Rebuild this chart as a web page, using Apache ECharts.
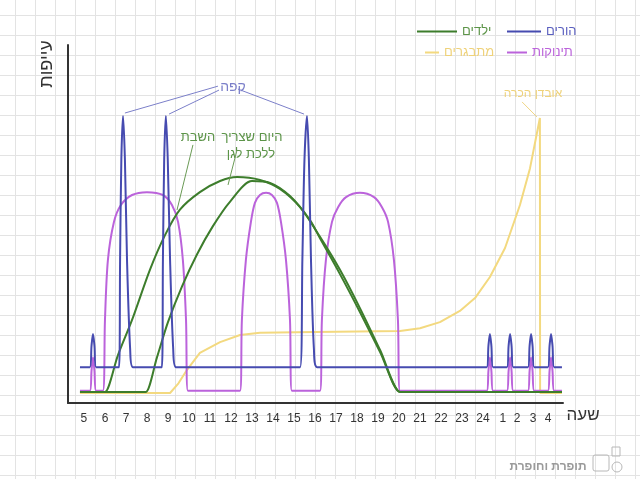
<!DOCTYPE html>
<html><head><meta charset="utf-8">
<script src="https://cdn.jsdelivr.net/npm/echarts@6/dist/echarts.min.js"></script>
<style>
html,body{margin:0;padding:0;background:#fff;}
#c{width:640px;height:479px;background-color:#fff;
background-image:linear-gradient(to right,#e3e3e3 1px,transparent 1px),linear-gradient(to bottom,#e3e3e3 1px,transparent 1px);
background-size:20px 20px;background-position:15px 15px;}
</style></head><body><div id="c"></div><script>
// x = hour of day (25..28 = 1..4 after midnight), y = fatigue
const tickPos = [5,6,7,8,9,10,11,12,13,14,15,16,17,18,19,20,21,22,23,24,24.95,25.62,26.38,27.1];
const tickLabels = ['5','6','7','8','9','10','11','12','13','14','15','16','17','18','19','20','21','22','23','24','1','2','3','4'];

const parents = [
 [4.81,10],[5.28,10],[5.36,16],[5.43,19.3],[5.5,16],[5.58,10],
 [6.67,10],[6.72,40],[6.78,68],[6.86,80.2],[6.95,68],[7.05,40],[7.2,15],[7.33,10],
 [8.71,10],[8.76,40],[8.82,68],[8.9,80.2],[8.99,68],[9.1,40],[9.25,15],[9.38,10],
 [15.29,10],[15.4,40],[15.5,68],[15.62,80.2],[15.71,68],[15.81,40],[15.95,15],[16.1,10],
 [24.18,10],[24.26,16],[24.33,19.3],[24.4,16],[24.48,10],
 [25.14,10],[25.22,16],[25.29,19.3],[25.36,16],[25.44,10],
 [26.14,10],[26.22,16],[26.29,19.3],[26.36,16],[26.44,10],
 [27.09,10],[27.17,16],[27.24,19.3],[27.31,16],[27.39,10],
 [27.76,10]
];
const babies = [
 [4.81,3.4],[5.28,3.4],[5.36,9],[5.43,12.8],[5.5,9],[5.58,3.4],
 [5.9,3.4],[6.0,23.2],[6.14,39.9],[6.43,50.6],[6.76,55.3],[7.29,58.1],[8.0,58.9],[8.76,58.1],[9.19,55.3],[9.48,50.6],[9.71,39.9],[9.86,23.2],[9.95,3.4],
 [12.43,3.4],[12.52,23.2],[12.71,39.9],[12.95,50.6],[13.14,55.9],[13.38,58.1],[13.67,58.7],[13.95,58.1],[14.19,55.9],[14.38,50.6],[14.62,39.9],[14.81,23.2],[14.9,3.4],
 [16.24,3.4],[16.33,23.2],[16.52,39.9],[16.81,50.6],[17.1,54.7],[17.48,57.5],[18.14,58.7],[18.81,57.5],[19.19,54.7],[19.48,50.6],[19.76,39.9],[19.95,23.2],[20.05,3.4],
 [24.18,3.4],[24.26,9],[24.33,12.8],[24.4,9],[24.48,3.4],
 [25.14,3.4],[25.22,9],[25.29,12.8],[25.36,9],[25.44,3.4],
 [26.14,3.4],[26.22,9],[26.29,12.8],[26.36,9],[26.44,3.4],
 [27.09,3.4],[27.17,9],[27.24,12.8],[27.31,9],[27.39,3.4],
 [27.76,3.4]
];
const kidsShabbat = [
 [4.81,3.1],[5.95,3.1],[6.0,3.1],[6.62,13.4],[7.29,23.2],[8.14,37.2],[8.86,46.9],[9.57,54.0],[10.52,58.9],[11.48,62.0],[12.29,63.1],
 [13.38,62.3],[14.33,59.8],[15.29,54.7],[16.24,46.4],[17.19,37.2],[18.14,26.5],[19.1,14.8],[20.05,3.1],[20.1,3.1],[27.76,3.1]
];
const kidsGan = [
 [4.81,3.1],[7.9,3.1],[7.95,3.1],[8.48,12.8],[9.0,22.6],[9.67,32.6],[10.38,41.5],[11.14,49.4],[11.95,56.2],[13.0,62.0],
 [13.86,61.5],[14.81,57.8],[15.76,51.1],[16.24,46.0],[17.19,36.0],[18.14,25.4],[19.1,14.2],[20.05,3.1],[20.1,3.1],[27.76,3.1]
];
const teens = [
 [4.81,2.8],[9.1,2.8],[9.5,5.5],[9.9,9.2],[10.52,14.0],[11.48,17.0],[12.43,19.0],[13.38,19.6],[16.0,19.8],
 [20.05,20.1],[21.0,20.9],[21.95,22.6],[22.9,25.7],[23.62,29.3],[24.33,35.2],[25.05,43.3],[25.76,55.3],[26.24,65.6],[26.71,79.6],
 [26.72,2.8],[27.76,2.8]
];

const BLUE='#464bb0', GREEN='#3d7d2c', PURPLE='#bb63db', YELLOW='#f3d97f';
const FONT = '"Liberation Sans","DejaVu Sans",sans-serif';

const chart = echarts.init(document.getElementById('c'), null, {renderer:'canvas'});
function lineSeries(name, data, color, smooth, extra){
  return Object.assign({type:'line', name, data, symbol:'none', smooth:smooth,
    lineStyle:{color, width:2}, itemStyle:{color}, z:2, silent:true}, extra||{});
}
function leader(color, pairs){
  return {silent:true, symbol:['none','none'], label:{show:false}, lineStyle:{color, width:1, type:'solid'},
    emphasis:{disabled:true}, animation:false,
    data: pairs.map(p=>[{coord:p[0]},{coord:p[1]}])};
}
function legendItem(name, left, top, w, color){
  return {data:[name], left, top, itemWidth:w, itemHeight:2, icon:'rect', selectedMode:false, padding:0, itemGap:5,
    textStyle:{fontSize:13, fontFamily:FONT, color}};
}
chart.setOption({
  animation:false,
  backgroundColor:'transparent',
  textStyle:{fontFamily:FONT},
  grid:{left:68, right:77, top:45, bottom:76},
  xAxis:{type:'value', min:4.24, max:27.81,
    axisLine:{show:true, lineStyle:{color:'#333', width:2}}, axisTick:{show:false}, splitLine:{show:false},
    axisLabel:{customValues:tickPos, margin:10, color:'#333', fontSize:12, fontFamily:FONT,
      formatter:v=>{const i=tickPos.findIndex(t=>Math.abs(t-v)<1e-6); return i>=0?tickLabels[i]:'';}}},
  yAxis:{type:'value', min:0, max:100,
    axisLine:{show:true, lineStyle:{color:'#333', width:2}}, axisTick:{show:false}, axisLabel:{show:false}, splitLine:{show:false}},
  legend:[
    legendItem('ילדים', 417, 25, 40, '#5c9448'),
    legendItem('הורים', 507, 25, 34, '#5a5fbf'),
    legendItem('מתבגרים', 425, 46, 14, '#efd27a'),
    legendItem('תינוקות', 507, 46, 20, '#bb63db')
  ],
  series:[
    lineSeries('מתבגרים', teens, YELLOW, false, {markLine: leader('#f0d584', [[[25.86,84.1],[26.57,79.9]]])}),
    lineSeries('תינוקות', babies, PURPLE, 0.3),
    lineSeries('ילדים', kidsShabbat, GREEN, 0.3, {markLine: leader('#6a9a55', [[[10.19,72.1],[9.43,53.9]],[[12.29,70.7],[11.86,60.9]]])}),
    lineSeries('ילדים', kidsGan, GREEN, 0.3),
    lineSeries('הורים', parents, BLUE, 0.3, {markLine: leader('#7b7fc9', [[[11.38,88.5],[6.95,81.0]],[[11.43,87.4],[9.05,80.7]],[[12.33,87.7],[15.48,80.7]]])})
  ],
  graphic:[
    {type:'text', x:47, y:64, rotation:Math.PI/2, style:{text:'עייפות', align:'center', verticalAlign:'middle', fill:'#333', font:'18px '+FONT}},
    {type:'text', x:583, y:415, style:{text:'שעה', align:'center', verticalAlign:'middle', fill:'#333', font:'17px '+FONT}},
    {type:'text', x:233, y:87, style:{text:'קפה', align:'center', verticalAlign:'middle', fill:'#7b7fc9', font:'14px '+FONT}},
    {type:'text', x:198, y:137, style:{text:'השבת', align:'center', verticalAlign:'middle', fill:'#5c9448', font:'13px '+FONT}},
    {type:'text', x:252, y:137, style:{text:'היום שצריך', align:'center', verticalAlign:'middle', fill:'#5c9448', font:'13px '+FONT}},
    {type:'text', x:251, y:154, style:{text:'ללכת לגן', align:'center', verticalAlign:'middle', fill:'#5c9448', font:'13px '+FONT}},
    {type:'text', x:533, y:94, style:{text:'אובדן הכרה', align:'center', verticalAlign:'middle', fill:'#efd27a', font:'12px '+FONT}},
    {type:'text', x:548, y:467, style:{text:'תופרת וחופרת', align:'center', verticalAlign:'middle', fill:'#9a9a9a', font:'bold 12px '+FONT}},
    {type:'rect', shape:{x:593, y:455, width:16, height:16, r:2}, style:{fill:'none', stroke:'#b8b8b8', lineWidth:1}},
    {type:'circle', shape:{cx:617, cy:467, r:5}, style:{fill:'none', stroke:'#b8b8b8', lineWidth:1}},
    {type:'rect', shape:{x:612, y:447, width:8, height:9}, style:{fill:'none', stroke:'#b8b8b8', lineWidth:1}}
  ]
});
</script></body></html>
